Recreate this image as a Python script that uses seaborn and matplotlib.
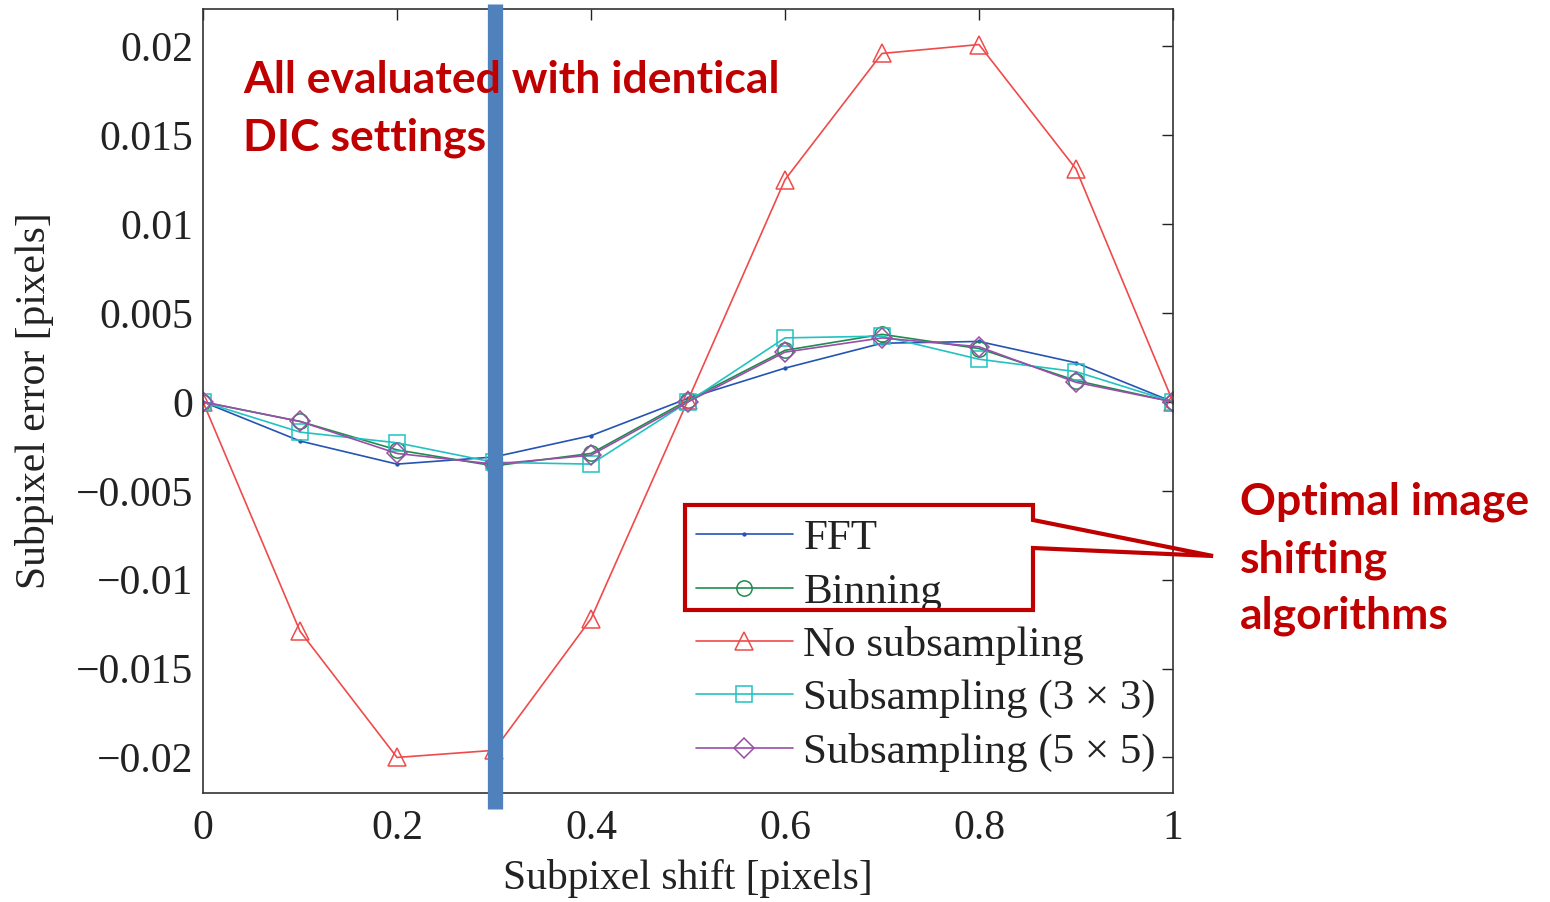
import numpy as np
import pandas as pd
import matplotlib
matplotlib.use("Agg")
import matplotlib.pyplot as plt
import seaborn as sns
from matplotlib.patches import Polygon

# ---- data ----
shift = [0.0, 0.1, 0.2, 0.3, 0.4, 0.5, 0.6, 0.7, 0.8, 0.9, 1.0]
fft = [0.0, -0.0022, -0.0035, -0.0031, -0.0019, 0.0002, 0.0019, 0.0033, 0.0034, 0.0022, 0.0]
binning = [0.0, -0.0011, -0.0027, -0.0036, -0.0029, 0.0001, 0.0029, 0.0038, 0.0030, 0.0012, 0.0]
no_sub = [0.0, -0.0129, -0.0200, -0.0196, -0.0122, 0.0001, 0.0125, 0.0196, 0.0201, 0.0131, 0.0]
sub3 = [0.0, -0.0017, -0.0023, -0.0034, -0.0035, 0.0, 0.0036, 0.0037, 0.0024, 0.0017, 0.0]
sub5 = [0.0, -0.0011, -0.0029, -0.0035, -0.0030, 0.0, 0.0028, 0.0036, 0.0031, 0.0011, 0.0]
labels = ["FFT", "Binning", "No subsampling", "Subsampling (3 × 3)", "Subsampling (5 × 5)"]
xticks = [0, 0.2, 0.4, 0.6, 0.8, 1]
yticks = [-0.02, -0.015, -0.01, -0.005, 0, 0.005, 0.01, 0.015, 0.02]
ytick_labels = ["−0.02", "−0.015", "−0.01", "−0.005", "0", "0.005", "0.01", "0.015", "0.02"]
xtick_labels = ["0", "0.2", "0.4", "0.6", "0.8", "1"]

series = [fft, binning, no_sub, sub3, sub5]
colors = ["#2454B4", "#1E8C4E", "#F04A4A", "#22C2C2", "#9A4EA8"]
markers = [".", "o", "^", "s", "D"]
msizes = [4, 11, 13, 11, 10]

sns.set_style("white")
plt.rcParams["font.family"] = ["Liberation Serif", "DejaVu Serif"]

fig = plt.figure(figsize=(15.5, 9.02), dpi=100)
W, H = 1550, 902
ax = fig.add_axes([203 / W, 1 - 793 / H, (1173 - 203) / W, (793 - 9) / H])

for ys, lab, c, m, ms in zip(series, labels, colors, markers, msizes):
    df = pd.DataFrame({"x": shift, "y": ys})
    sns.lineplot(data=df, x="x", y="y", ax=ax, color=c, marker=m, markersize=ms,
                 markerfacecolor="none" if m != "." else c, markeredgecolor=c,
                 markeredgewidth=1.1, linewidth=1.2, label=lab)

ax.set_xlim(0, 1)
ax.set_ylim(-0.022, 0.0221)
ax.set_xticks(xticks)
ax.set_xticklabels(xtick_labels)
ax.set_yticks(yticks)
ax.set_yticklabels(ytick_labels)
ax.tick_params(direction="in", length=8, width=1.0, top=True, right=True,
               labelsize=30, colors="#222222")
ax.tick_params(axis="y", pad=7)
ax.tick_params(axis="x", pad=12)
for s in ax.spines.values():
    s.set_color("#333333")
    s.set_linewidth(1.2)
ax.set_xlabel("Subpixel shift [pixels]", fontsize=30, color="#222222", labelpad=8)
ax.set_ylabel("Subpixel error [pixels]", fontsize=30, color="#222222", labelpad=16)

leg = ax.legend(loc="lower right", bbox_to_anchor=(1.0, 0.005), frameon=False,
                fontsize=31, handlelength=2.25, handletextpad=0.25, labelspacing=0.33,
                borderaxespad=0.0)
for t in leg.get_texts():
    t.set_color("#222222")

# blue vertical bar
ax.axvline(0.3015, ymin=-0.02, ymax=1.006, color="#4F81BD", linewidth=11,
           solid_capstyle="butt", clip_on=False, zorder=10)

# red callout
pts = [(685, 505), (1033, 505), (1033, 520), (1213, 556), (1033, 548), (1033, 610), (685, 610)]
poly = Polygon([(x / W, 1 - y / H) for x, y in pts], closed=True, fill=False,
               edgecolor="#C00000", linewidth=3, transform=fig.transFigure, joinstyle="miter")
fig.patches.append(poly)

red = "#C00000"
fs = 32
fig.text(243 / W, 1 - 93 / H, "All evaluated with identical", color=red, fontsize=fs,
         fontweight="bold", family=["Lato", "DejaVu Sans"], va="baseline", ha="left", zorder=5)
fig.text(243 / W, 1 - 150 / H, "DIC settings", color=red, fontsize=fs,
         fontweight="bold", family=["Lato", "DejaVu Sans"], va="baseline", ha="left", zorder=5)
for i, line in enumerate(["Optimal image", "shifting", "algorithms"]):
    fig.text(1240 / W, 1 - (515 + 57 * i) / H, line, color=red, fontsize=fs,
             fontweight="bold", family=["Lato", "DejaVu Sans"], va="baseline", ha="left")

fig.savefig("out.png", dpi=100)
